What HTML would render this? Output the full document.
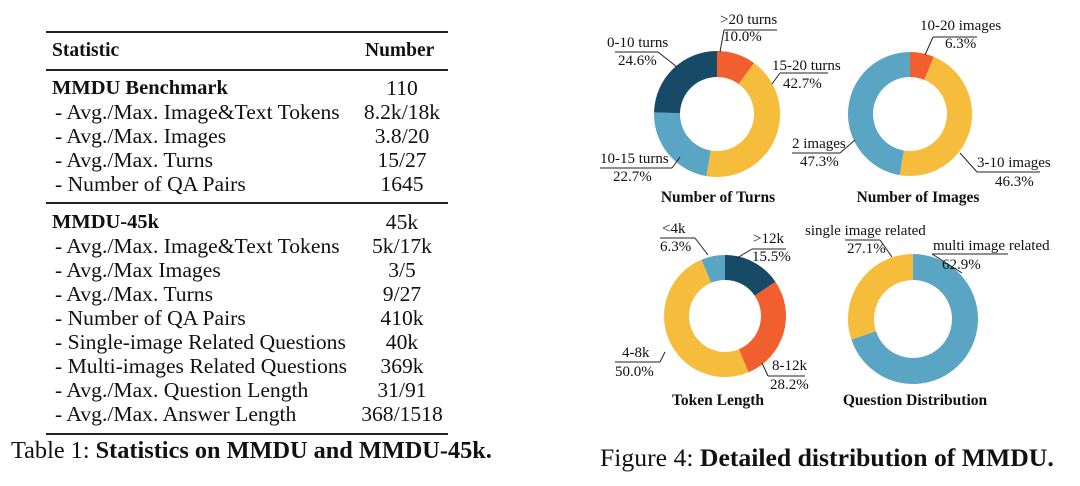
<!DOCTYPE html>
<html><head><meta charset="utf-8">
<style>
body{margin:0;background:#fff;}
#wrap{position:relative;width:1080px;height:486px;overflow:hidden;font-family:"Liberation Serif",serif;color:#111;}
.t{position:absolute;font-size:21.6px;white-space:nowrap;line-height:1;}
.b{font-weight:bold;}
.rule{position:absolute;left:46px;width:402px;background:#222;}
.num{position:absolute;left:352px;width:100px;text-align:center;font-size:21.6px;line-height:1;}
</style></head>
<body><div id="wrap">
<div class="rule" style="top:31px;height:2px"></div>
<div class="t b" style="left:52px;top:41px;font-size:19.5px">Statistic</div>
<div class="t b" style="left:365px;top:41px;font-size:19.5px">Number</div>
<div class="rule" style="top:69px;height:1.5px"></div>
<div id="rows"></div>
<div class="rule" style="top:202px;height:1.5px"></div>
<div class="rule" style="top:433px;height:2px"></div>
<div class="t" style="left:11px;top:439px;font-size:24.3px">Table 1: <b>Statistics on MMDU and MMDU-45k.</b></div>
<div class="t" style="left:600px;top:445px;font-size:25.7px">Figure 4: <b>Detailed distribution of MMDU.</b></div>
<svg id="fig" width="1080" height="486" style="position:absolute;left:0;top:0"></svg>
</div>
<script>
const rowLabels=[["MMDU Benchmark",1],[" - Avg./Max. Image&Text Tokens",0],[" - Avg./Max. Images",0],[" - Avg./Max. Turns",0],[" - Number of QA Pairs",0],
["MMDU-45k",1],[" - Avg./Max. Image&Text Tokens",0],[" - Avg./Max Images",0],[" - Avg./Max. Turns",0],[" - Number of QA Pairs",0],[" - Single-image Related Questions",0],[" - Multi-images Related Questions",0],[" - Avg./Max. Question Length",0],[" - Avg./Max. Answer Length",0]];
const rowValues=["110","8.2k/18k","3.8/20","15/27","1645","45k","5k/17k","3/5","9/27","410k","40k","369k","31/91","368/1518"];
const rowsEl=document.getElementById('rows');
rowLabels.forEach((r,i)=>{
  const top=(i<5?78+i*24:212+(i-5)*24);
  const l=document.createElement('div');
  l.className='t'+(r[1]?' b':'');
  l.style.left=(r[1]?52:55)+'px';l.style.top=top+'px';
  if(r[1]) l.style.fontSize='20.5px';
  l.textContent=r[0];
  
  
  rowsEl.appendChild(l);
  const v=document.createElement('div');
  v.className='num';v.style.top=top+'px';v.textContent=rowValues[i];
  
  
  rowsEl.appendChild(v);
});

const C={dark:"#174a66",orange:"#f25f2f",yellow:"#f5bd3b",blue:"#5ba5c4"};
const turnsValues=[10.0,42.7,22.7,24.6];
const turnsColors=[C.orange,C.yellow,C.blue,C.dark];
const imagesValues=[6.3,46.3,47.3];
const imagesColors=[C.orange,C.yellow,C.blue];
const tokenValues=[15.5,28.2,50.0,6.3];
const tokenColors=[C.dark,C.orange,C.yellow,C.blue];
const questionValues=[62.9,27.1];
const questionColors=[C.blue,C.yellow];

const svg=document.getElementById('fig');
const NS="http://www.w3.org/2000/svg";
function mk(t,a){const e=document.createElementNS(NS,t);for(const k in a)e.setAttribute(k,a[k]);svg.appendChild(e);return e;}
function donut(name,cx,cy,ro,ri,vals,cols){
  const tot=vals.reduce((a,b)=>a+b,0);let a0=0;
  vals.forEach((v,i)=>{
    const a1=a0+v/tot*2*Math.PI;
    const p=(r,a)=>[cx+r*Math.sin(a),cy-r*Math.cos(a)];
    const [x1,y1]=p(ro,a0),[x2,y2]=p(ro,a1),[x3,y3]=p(ri,a1),[x4,y4]=p(ri,a0);
    const lg=(a1-a0)>Math.PI?1:0;
    const e=mk('path',{d:`M${x1},${y1}A${ro},${ro} 0 ${lg} 1 ${x2},${y2}L${x3},${y3}A${ri},${ri} 0 ${lg} 0 ${x4},${y4}Z`,fill:cols[i]});
    
    
    a0=a1;
  });
}
donut('turns',717,114,63,37,turnsValues,turnsColors);
donut('images',910,114,62,37,imagesValues,imagesColors);
donut('token',725,316,61,36,tokenValues,tokenColors);
donut('question',913,319,65,39,questionValues,questionColors);

function txt(x,y,s,sz,bold,anchor){const e=mk('text',{x:x,y:y,'font-size':sz,'font-family':'Liberation Serif, serif','font-weight':bold?'bold':'normal','text-anchor':anchor||'start',fill:'#111'});e.textContent=s;return e;}
function lab(name,t1,x1,y1,t2,x2,y2,ux1,ux2,uy,dx,dy,ex,ey){
  let e=txt(x1,y1,t1,15);
  e=txt(x2,y2,t2,15);
  e=mk('polyline',{points:`${ux1},${uy} ${ux2},${uy} `,fill:'none',stroke:'#222','stroke-width':1});
  
  e=mk('line',{x1:dx,y1:dy,x2:ex,y2:ey,stroke:'#222','stroke-width':1});
  
}
lab('gt20-turns','>20 turns',720,24,'10.0%',723,41,724,777,30,724,30,720,52);
lab('0-10-turns','0-10 turns',607,47,'24.6%',618,65,615,658,52,658,52,677,67);
lab('15-20-turns','15-20 turns',772,70,'42.7%',783,88,780,828,73,780,73,772,84);
lab('10-15-turns','10-15 turns',600,163,'22.7%',613,181,600,672,168,672,168,680,157);
lab('10-20-images','10-20 images',920,30,'6.3%',945,48,933,977,37,933,37,925,55);
lab('2-images','2 images',792,148,'47.3%',800,166,792,840,153,840,153,855,140);
lab('3-10-images','3-10 images',977,167,'46.3%',995,186,977,1040,172,977,172,960,153);
lab('lt4k','<4k',662,233,'6.3%',660,251,660,695,238,695,238,708,255);
lab('gt12k','>12k',753,243,'15.5%',752,261,752,786,249,752,249,737,258);
lab('4-8k','4-8k',622,357,'50.0%',615,376,615,660,362,660,362,665,352);
lab('8-12k','8-12k',772,370,'28.2%',770,389,768,805,376,768,376,762,363);
lab('single-image','single image related',805,235,'27.1%',847,253,845,880,240,880,240,892,257);
lab('multi-image','multi image related',933,250,'62.9%',942,269,932,1008,254,932,254,962,273);

[['Number of Turns',718,202],['Number of Images',918,202],['Token Length',718,405],['Question Distribution',915,405]].forEach(t=>{
  const e=txt(t[1],t[2],t[0],15.5,true,'middle');
  
  
});
</script>
</body></html>
